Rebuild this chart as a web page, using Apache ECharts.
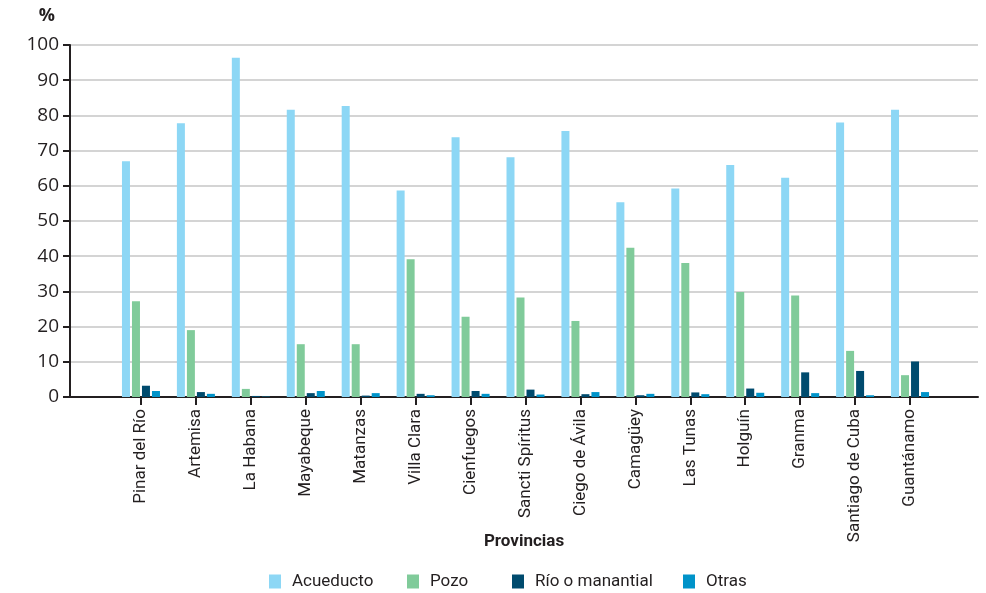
<!DOCTYPE html>
<html><head><meta charset="utf-8">
<script src="https://cdn.jsdelivr.net/npm/echarts@6/dist/echarts.min.js"></script>
<style>html,body{margin:0;padding:0;background:#fff}#c{width:986px;height:593px}</style>
</head><body><div id="c"></div>
<script>
const categories = ["Pinar del Río","Artemisa","La Habana","Mayabeque","Matanzas","Villa Clara","Cienfuegos","Sancti Spíritus","Ciego de Ávila","Camagüey","Las Tunas","Holguín","Granma","Santiago de Cuba","Guantánamo"];
const acueducto = [67.0,77.8,96.4,81.6,82.7,58.7,73.8,68.1,75.6,55.3,59.2,65.9,62.3,78.0,81.6];
const pozo      = [27.2,19.0,2.3,15.0,15.0,39.1,22.8,28.3,21.6,42.4,38.1,29.8,28.8,13.1,6.2];
const rio       = [3.2,1.4,0.3,1.1,0.4,0.9,1.7,2.1,0.8,0.5,1.3,2.4,7.0,7.4,10.1];
const otras     = [1.7,0.9,0.1,1.7,1.1,0.5,0.9,0.7,1.4,0.9,0.8,1.2,1.1,0.5,1.4];
const seriesNames = ['Acueducto','Pozo','Río o manantial','Otras'];
const yTicks = [0,10,20,30,40,50,60,70,80,90,100];

const FONT = 'Roboto,"Noto Sans",sans-serif';
const NUMFONT = '"Open Sans","Noto Sans",sans-serif';
const TXT = '#231f20';
const colors = ['#8dd7f5','#80cb9a','#004b6e','#0093c9'];
const legendLeft = [264, 402, 507, 678];

const chart = echarts.init(document.getElementById('c'), null, {renderer:'canvas'});
const mkBar = (name, data, color) => ({
  name, type:'bar', data, xAxisIndex:1, yAxisIndex:1,
  barWidth:8, barGap:'25%',
  itemStyle:{color},
  emphasis:{disabled:true}, animation:false
});
chart.setOption({
  animation:false,
  color:colors,
  textStyle:{fontFamily:FONT},
  grid:[
    {left:70, right:8, top:45, bottom:196},
    {left:113.5, right:48.5, top:45, bottom:196}
  ],
  xAxis:[
    {gridIndex:0, type:'value', min:0, max:1, axisLabel:{show:false}, splitLine:{show:false}, axisTick:{show:false},
     axisLine:{show:true, lineStyle:{color:'#231f20', width:2}},
     name:'Provincias', nameLocation:'middle', nameGap:136, nameMoveOverlap:false,
     nameTextStyle:{fontSize:17, fontWeight:'bold', color:TXT, fontFamily:FONT}},
    {gridIndex:1, type:'category', data:categories,
     axisLine:{show:false}, axisTick:{show:true, alignWithLabel:true, length:8, lineStyle:{color:'#231f20', width:2}},
     axisLabel:{rotate:90, interval:0, margin:12, fontSize:17, color:TXT, fontFamily:FONT}}
  ],
  yAxis:[
    {gridIndex:0, type:'value', min:0, max:100, interval:10,
     axisLine:{show:true, lineStyle:{color:'#231f20', width:2}},
     axisTick:{show:true, length:7, lineStyle:{color:'#231f20', width:2}},
     axisLabel:{fontSize:19, color:TXT, margin:11, fontFamily:NUMFONT,
       formatter:v => yTicks.includes(v) ? String(v) : ''},
     splitLine:{show:true, lineStyle:{color:'#c6c6c6', width:1.5}},
     name:'%', nameLocation:'end', nameGap:20,
     nameTextStyle:{fontSize:18, fontWeight:'bold', color:TXT, align:'right', padding:[0,15,0,0], fontFamily:NUMFONT}},
    {gridIndex:1, type:'value', min:0, max:100, show:false}
  ],
  legend: seriesNames.map((n,i) => ({
    left:legendLeft[i], top:568, itemWidth:12, itemHeight:14, icon:'rect',
    data:[n], textStyle:{fontSize:17, color:TXT, fontFamily:FONT, padding:[0,0,0,6]}
  })),
  series:[
    mkBar(seriesNames[0], acueducto, colors[0]),
    mkBar(seriesNames[1], pozo, colors[1]),
    mkBar(seriesNames[2], rio, colors[2]),
    mkBar(seriesNames[3], otras, colors[3])
  ]
});
</script></body></html>
